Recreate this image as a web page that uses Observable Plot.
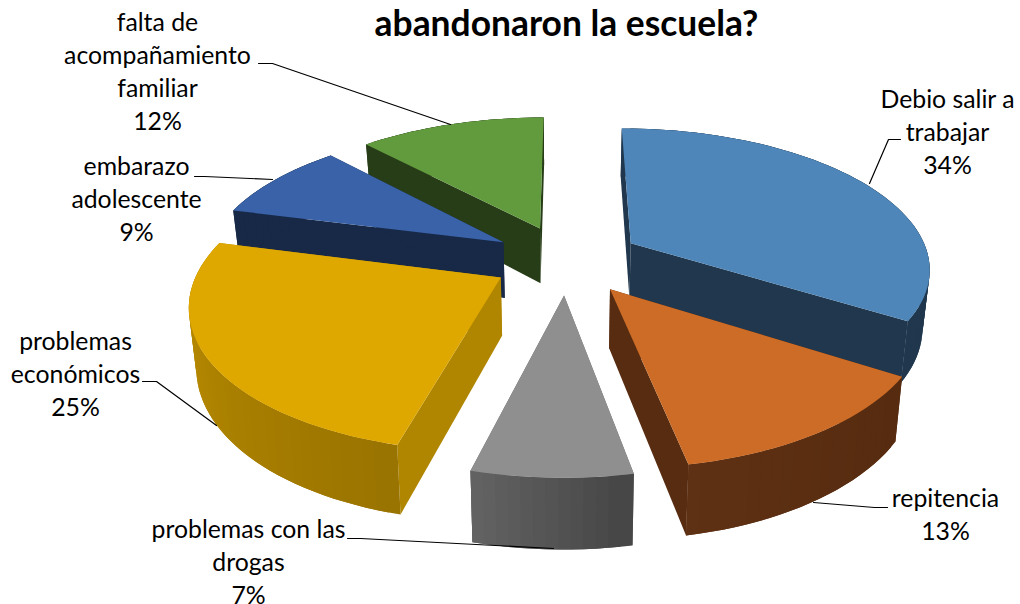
<!DOCTYPE html>
<html><head><meta charset="utf-8">
<script src="https://cdn.jsdelivr.net/npm/d3@7"></script>
<script src="https://cdn.jsdelivr.net/npm/@observablehq/plot@0.6"></script>
<style>html,body{margin:0;padding:0;background:#fff}svg{display:block}</style>
</head><body><div id="chart"></div>
<script>
const categories = ["Debio salir a trabajar","repitencia","problemas con las drogas","problemas económicos","embarazo adolescente","falta de acompañamiento familiar"];
const shares = [34,13,7,25,9,12];
const labelTexts = ["Debio salir a\ntrabajar\n34%","repitencia\n13%","problemas con las\ndrogas\n7%","problemas\neconómicos\n25%","embarazo\nadolescente\n9%","falta de\nacompañamiento\nfamiliar\n12%"];
const topColors = ["#4E86B9","#CC6C27","#8F8F8F","#DFA800","#3A62A8","#629A3E"];
const sideColors = ["#20374D","#572C10","#666666","#B08600","#172946","#273D18"];
const rimColors = [["#20374D","#20374D"],["#562B0F","#5F3114"],["#464646","#666666"],["#9A7400","#C49300"],["#172946","#172946"],["#273D18","#273D18"]];
const paintOrder = [5,4,0,3,1,2];
const title = "abandonaron la escuela?";
const labelAnchors = [[947,84.5],[945,483.5],[248,514],[75,326.5],[136,151.5],[157,7.5]];
const leaders = [
  [[900,139],[888,139],[869,183]],
  [[887,507],[874,507],[813,502]],
  [[347,538],[360,538],[553,548]],
  [[142,381],[156,381],[216,425]],
  [[194,176],[204,176],[272,179]],
  [[258,63],[272,63],[450,124]]
];

// 3D projection settings
const xc = 566, y0 = 259, horizon = -581, R = 299, persp = 0.165, explode = 0.25, depth = 57, squeeze = 0.02;
function proj(u, v){ const s = 1/(1+persp*v); return {x: xc+u*R*s, y: horizon+(y0-horizon)*s, s}; }
function drop(p){ return {x: p.x-(p.x-xc)*squeeze, y: p.y+depth*p.s}; }

const total = d3.sum(shares);
const cum = d3.cumsum(shares);
const polys = [];
let pid = 0;
function add(pts, c){ const id = pid++; for(const p of pts) polys.push({id, x:p.x, y:p.y, c}); }

for(const i of paintOrder){
  const a1 = (cum[i]-shares[i])/total*2*Math.PI, a2 = cum[i]/total*2*Math.PI, m=(a1+a2)/2;
  const ou = explode*Math.sin(m), ov = explode*Math.cos(m);
  const tip = proj(ou, ov);
  const n = Math.max(4, Math.round((a2-a1)/(Math.PI/90)));
  const arc = d3.range(n+1).map(k=>{const a=a1+(a2-a1)*k/n; return proj(ou+Math.sin(a), ov+Math.cos(a));});
  // radial walls
  for(const e of [arc[0], arc[n]]) add([tip,e,drop(e),drop(tip)], sideColors[i]);
  // rim, shaded by arc position; each band overlaps the next so no seams show
  const shade = d3.interpolateRgb(rimColors[i][0], rimColors[i][1]);
  for(let k=n-1;k>=0;k--){
    const end = arc.slice(k, Math.min(n,k+2)+1);
    add([...end, ...end.map(drop).reverse()], shade((k+.5)/n));
  }
  // top
  add([tip,...arc], topColors[i]);
}

const lead = leaders.flatMap((l,i)=>l.map(p=>({i,x:p[0],y:p[1]})));
const labelRows = labelTexts.map((t,i)=>({t,x:labelAnchors[i][0],y:labelAnchors[i][1]}));

const plot = Plot.plot({
  width:1020, height:604, margin:0,
  x:{domain:[0,1020],range:[0,1020],axis:null},
  y:{domain:[0,604],range:[0,604],axis:null},
  color:{type:"identity"},
  style:{fontFamily:"Lato",background:"#fff"},
  marks:[
    Plot.line(polys,{x:"x",y:"y",z:"id",fill:"c",stroke:"none",curve:"linear-closed"}),
    Plot.line(lead,{x:"x",y:"y",z:"i",stroke:"#000",strokeWidth:1.2}),
    Plot.text(labelRows,{x:"x",y:"y",text:"t",fontSize:24.8,lineHeight:1.33,lineAnchor:"top",textAnchor:"middle",fill:"#000"}),
    Plot.text([title],{x:()=>566,y:()=>24,text:d=>d,fontSize:35.4,fontWeight:700,fill:"#000"})
  ]
});
document.getElementById("chart").append(plot);
</script></body></html>
